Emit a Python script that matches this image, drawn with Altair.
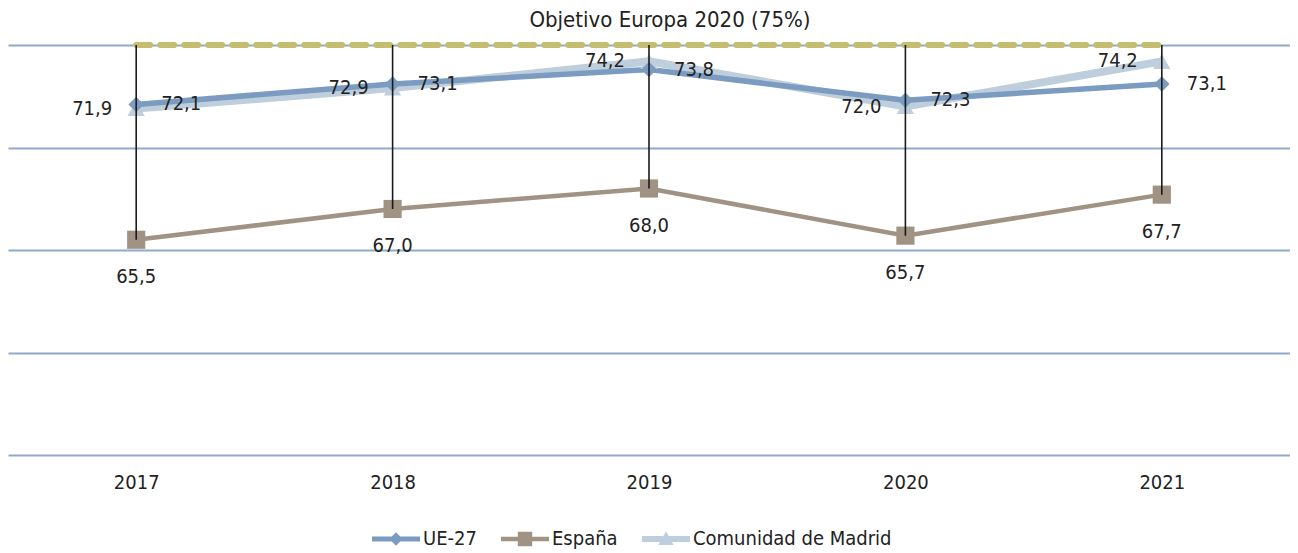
import altair as alt
import pandas as pd

# ---- data ----
years = ["2017", "2018", "2019", "2020", "2021"]
ue27 = [72.1, 73.1, 73.8, 72.3, 73.1]
espana = [65.5, 67.0, 68.0, 65.7, 67.7]
madrid = [71.9, 72.9, 74.2, 72.0, 74.2]
series_names = ["UE-27", "España", "Comunidad de Madrid"]
target = 75
title_text = "Objetivo Europa 2020 (75%)"
y_ticks = [55, 60, 65, 70, 75]
y_domain = [55, 75]

# ---- styles ----
FONT = "Liberation Sans Narrow, DejaVu Sans Condensed, Roboto, sans-serif"
C_UE = "#7b9bc0"
C_ES = "#a09384"
C_MA = "#bfcedc"
C_TARGET = "#c4bd72"
C_GRID = "#8eaacb"
TXT = "#222222"
legend_paths = [
    "M-1,-0.1L1,-0.1L1,0.1L-1,0.1Z M0,-0.28L0.28,0L0,0.28L-0.28,0Z",
    "M-1,-0.09L1,-0.09L1,0.09L-1,0.09Z M-0.3,-0.3L0.3,-0.3L0.3,0.3L-0.3,0.3Z",
    "M-1,-0.12L1,-0.12L1,0.12L-1,0.12Z M0,-0.32L0.32,0.25L-0.32,0.25Z",
]

rows = []
for name, vals in zip(series_names, [ue27, espana, madrid]):
    for yr, v in zip(years, vals):
        rows.append({"year": yr, "serie": name, "valor": v,
                     "label": f"{v:.1f}".replace(".", ","), "target": target})
df = pd.DataFrame(rows)
tdf = pd.DataFrame({"year": years, "valor": [target] * len(years)})

x_enc = alt.X("year:O", scale=alt.Scale(type="point", padding=0.5),
              axis=alt.Axis(title=None, labelAngle=0, ticks=False, domain=False,
                            labelFont=FONT, labelFontSize=20, labelColor=TXT,
                            labelPadding=17))
y_enc = alt.Y("valor:Q", scale=alt.Scale(domain=y_domain, nice=False, zero=False),
              axis=alt.Axis(title=None, values=y_ticks, labels=False, ticks=False,
                            domain=False, grid=True, gridColor=C_GRID, gridWidth=2))

base = alt.Chart(df)

target_line = alt.Chart(tdf).mark_line(
    color=C_TARGET, strokeWidth=6, strokeDash=[14, 10], strokeCap="round"
).encode(x=x_enc, y=y_enc)

def series(name):
    return base.transform_filter(alt.datum.serie == name)

ma_line = series("Comunidad de Madrid").mark_line(color=C_MA, strokeWidth=8).encode(x=x_enc, y=y_enc)
ue_line = series("UE-27").mark_line(color=C_UE, strokeWidth=5.5).encode(x=x_enc, y=y_enc)
es_line = series("España").mark_line(color=C_ES, strokeWidth=4.5).encode(x=x_enc, y=y_enc)

ma_pts = series("Comunidad de Madrid").mark_point(shape="triangle-up", filled=True, size=300,
                                                  color=C_MA, opacity=1).encode(x=x_enc, y=y_enc)
ue_pts = series("UE-27").mark_point(shape="diamond", filled=True, size=240,
                                    color=C_UE, opacity=1).encode(x=x_enc, y=y_enc)
es_pts = series("España").mark_point(shape="square", filled=True, size=330,
                                     color=C_ES, opacity=1).encode(x=x_enc, y=y_enc)

drop = series("España").mark_rule(color="#1a1a1a", strokeWidth=1.6).encode(
    x=x_enc, y=alt.Y("target:Q", scale=alt.Scale(domain=y_domain, nice=False, zero=False)),
    y2="valor:Q")

lab_kw = dict(font=FONT, fontSize=20, color=TXT, baseline="middle")
ue_lab = series("UE-27").mark_text(align="left", dx=25, **lab_kw).encode(x=x_enc, y=y_enc, text="label:N")
ma_lab = series("Comunidad de Madrid").mark_text(align="right", dx=-24, **lab_kw).encode(x=x_enc, y=y_enc, text="label:N")
es_lab = series("España").mark_text(align="center", dy=37, **lab_kw).encode(x=x_enc, y=y_enc, text="label:N")

leg = alt.Legend(title=None, orient="none", legendX=364, legendY=470, direction="horizontal",
                 symbolSize=2304, symbolStrokeWidth=0, symbolOpacity=1,
                 labelFont=FONT, labelFontSize=20, labelColor=TXT, labelOffset=3,
                 labelLimit=0, columnPadding=24, padding=0)
legend_layer = base.mark_point(filled=True, size=0).encode(
    x=x_enc, y=y_enc,
    color=alt.Color("serie:N", scale=alt.Scale(domain=series_names, range=[C_UE, C_ES, C_MA]), legend=leg),
    shape=alt.Shape("serie:N", scale=alt.Scale(domain=series_names, range=legend_paths), legend=leg),
)

chart = alt.layer(
    target_line, ma_line, ue_line, es_line, ma_pts, ue_pts, es_pts, drop,
    ue_lab, ma_lab, es_lab, legend_layer
).properties(
    width=1282, height=410,
    title=alt.TitleParams(title_text, font=FONT, fontSize=22, fontWeight="normal", color=TXT,
                          anchor="middle", offset=1, dx=21, frame="group"),
    autosize=alt.AutoSizeParams(type="none"),
    padding={"left": 0, "top": 37, "right": 0, "bottom": 100},
    background="white",
).configure_view(stroke=None)

chart.save("out.html", embed_options={"renderer": "svg", "actions": False})
